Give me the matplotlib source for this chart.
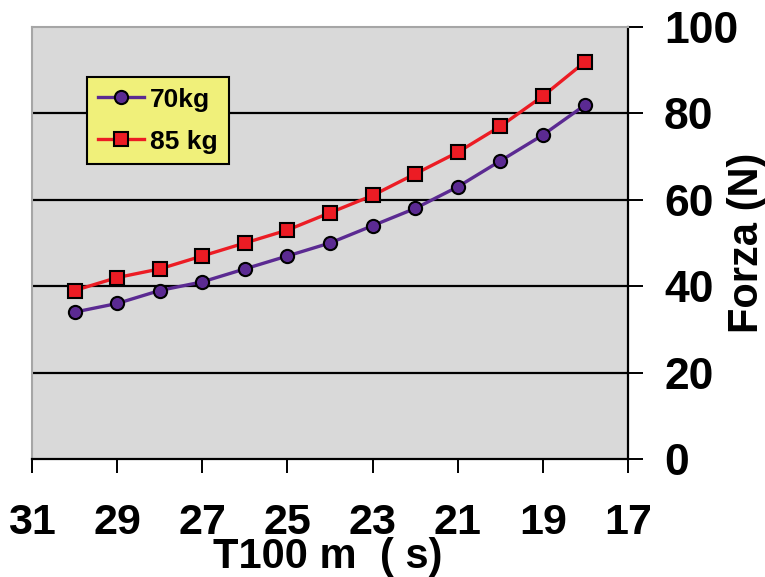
import numpy as np
import matplotlib.pyplot as plt

# T100 m times (s) and the force for two body masses
tempo = [30, 29, 28, 27, 26, 25, 24, 23, 22, 21, 20, 19, 18]
forza_70 = [34, 36, 39, 41, 44, 47, 50, 54, 58, 63, 69, 75, 82]
forza_85 = [39, 42, 44, 47, 50, 53, 57, 61, 66, 71, 77, 84, 92]

x_ticks = [31, 29, 27, 25, 23, 21, 19, 17]
y_ticks = [0, 20, 40, 60, 80, 100]

plt.rcParams['font.family'] = ['Liberation Sans', 'DejaVu Sans']
plt.rcParams['font.weight'] = 'bold'

fig = plt.figure(figsize=(7.65, 5.77), dpi=100)
ax = fig.add_axes([32 / 765, 1 - 459 / 577, 596 / 765, 432 / 577])
ax.set_facecolor('#d9d9d9')

# horizontal grid (without the top one)
for g in y_ticks[1:-1]:
    ax.axhline(g, color='black', lw=1.6, zorder=1)

ax.plot(tempo, forza_70, color='#5b2a92', lw=2.4, marker='o', ms=9.5,
        mfc='#5b2a92', mec='black', mew=1.5, label='70kg', zorder=3)
ax.plot(tempo, forza_85, color='#ec1c24', lw=2.4, marker='s', ms=9.5,
        mfc='#ec1c24', mec='black', mew=1.5, label='85 kg', zorder=3)

ax.set_xlim(31, 17)
ax.set_ylim(0, 100)
ax.set_xticks(x_ticks)
ax.set_yticks(y_ticks)

ax.yaxis.tick_right()
for side in ['left', 'top']:
    ax.spines[side].set_color('#a6a6a6')
    ax.spines[side].set_linewidth(1.5)
ax.spines['right'].set_linewidth(1.6)
ax.spines['bottom'].set_linewidth(1.6)

ax.tick_params(axis='x', direction='out', length=10, width=1.4,
               pad=22, labelsize=31)
ax.tick_params(axis='y', direction='out', length=11, width=1.4,
               pad=15, labelsize=32)

fig.text(328 / 765, 1 - 557 / 577, 'T100 m  ( s)', ha='center', va='center',
         fontsize=30, fontweight='bold')
fig.text(747 / 765, 1 - 243 / 577, 'Forza (N)', ha='center', va='center',
         rotation=90, fontsize=30, fontweight='bold')

leg = ax.legend(loc='upper left', bbox_to_anchor=(55 / 596, 1 - 50 / 432),
                fontsize=19, frameon=True, fancybox=False, framealpha=1,
                facecolor='#f0f07a', edgecolor='black', handlelength=1.75,
                handletextpad=0.25, borderpad=0.4, labelspacing=0.68,
                borderaxespad=0)
leg.get_frame().set_linewidth(1.5)

fig.savefig('out.png', dpi=100)
